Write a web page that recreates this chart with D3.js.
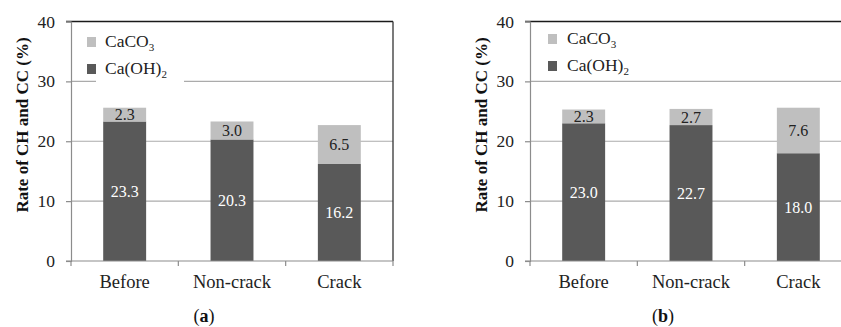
<!DOCTYPE html>
<html>
<head>
<meta charset="utf-8">
<script src="https://cdn.jsdelivr.net/npm/d3@7"></script>
</head>
<body style="margin:0;background:#fff">
<svg id="chart" width="841" height="327" style="display:block"></svg>
<script>
// Sample groups on the x axis
const categories = ["Before", "Non-crack", "Crack"];

// Panel (a): Ca(OH)2 and CaCO3 contents (%)
const chA = [23.3, 20.3, 16.2];
const ccA = [2.3, 3.0, 6.5];

// Panel (b): Ca(OH)2 and CaCO3 contents (%)
const chB = [23.0, 22.7, 18.0];
const ccB = [2.3, 2.7, 7.6];

const yTicks = [0, 10, 20, 30, 40];
const yLabel = "Rate of CH and CC (%)";

const COL_CH = "#595959";
const COL_CC = "#bfbfbf";
const GRID = "#ababab";
const AXIS = "#8c8c8c";
const FONT = "Liberation Serif";

const svg = d3.select("#chart");

// serif text helper: font set both as attribute and inline style
function serif(sel) {
  return sel.attr("font-family", FONT).style("font-family", `"${FONT}"`);
}

function panel(opts) {
  const { left, right, top, bottom, ch, cc, tag, legend } = opts;
  const g = svg.append("g");

  const x = d3.scaleBand().domain(categories).range([left, right])
    .paddingInner(0.6).paddingOuter(0.3);
  const y = d3.scaleLinear().domain([0, 40]).range([bottom, top]);

  // horizontal gridlines
  g.selectAll("line.grid").data(yTicks.filter(t => t > 0 && t < 40)).join("line")
    .attr("x1", left).attr("x2", right)
    .attr("y1", d => y(d)).attr("y2", d => y(d))
    .attr("stroke", GRID).attr("stroke-width", 1.2);

  // frame: dark top and right edges
  g.append("line").attr("x1", left - 5).attr("x2", right)
    .attr("y1", y(40)).attr("y2", y(40))
    .attr("stroke", "#1a1a1a").attr("stroke-width", 1.3);
  g.append("line").attr("x1", right).attr("x2", right)
    .attr("y1", y(40)).attr("y2", y(0))
    .attr("stroke", "#333").attr("stroke-width", 1.3);

  // legend background breaks the 30% gridline
  if (legend.bg) {
    g.append("rect").attr("x", legend.bg[0]).attr("y", top + 4)
      .attr("width", legend.bg[1] - legend.bg[0]).attr("height", y(30) - top - 3)
      .attr("fill", "#fff");
  }

  // stacked bars
  const stack = categories.map((c, i) => ({ c, ch: ch[i], cc: cc[i] }));
  g.selectAll("rect.ch").data(stack).join("rect")
    .attr("x", d => x(d.c)).attr("width", x.bandwidth())
    .attr("y", d => y(d.ch)).attr("height", d => y(0) - y(d.ch))
    .attr("fill", COL_CH);
  g.selectAll("rect.cc").data(stack).join("rect")
    .attr("x", d => x(d.c)).attr("width", x.bandwidth())
    .attr("y", d => y(d.ch + d.cc)).attr("height", d => y(d.ch) - y(d.ch + d.cc))
    .attr("fill", COL_CC);

  // segment value labels
  serif(g.selectAll("text.vch").data(stack).join("text"))
    .attr("x", d => x(d.c) + x.bandwidth() / 2)
    .attr("y", d => y(d.ch / 2))
    .attr("dy", "0.35em").attr("text-anchor", "middle")
    .attr("font-size", 16).attr("fill", "#fff")
    .text(d => d.ch.toFixed(1));
  serif(g.selectAll("text.vcc").data(stack).join("text"))
    .attr("x", d => x(d.c) + x.bandwidth() / 2)
    .attr("y", d => y(d.ch + d.cc / 2))
    .attr("dy", "0.35em").attr("text-anchor", "middle")
    .attr("font-size", 16).attr("fill", "#222")
    .text(d => d.cc.toFixed(1));

  // y axis
  const yAxis = g.append("g").attr("transform", `translate(${left},0)`)
    .call(d3.axisLeft(y).tickValues(yTicks).tickSize(5).tickPadding(11).tickFormat(d3.format("d")));
  serif(yAxis);
  yAxis.select(".domain").attr("stroke", AXIS).attr("stroke-width", 1.2);
  yAxis.selectAll(".tick line").attr("stroke", AXIS).attr("stroke-width", 1.2);
  serif(yAxis.selectAll(".tick text")).attr("font-size", 17.5).attr("fill", "#222");

  // x axis with ticks at category boundaries
  const bounds = [left, ...categories.map((c, i) => left + (i + 1) * (right - left) / 3)];
  g.append("line").attr("x1", left - 5).attr("x2", right)
    .attr("y1", bottom).attr("y2", bottom)
    .attr("stroke", AXIS).attr("stroke-width", 1.2);
  g.selectAll("line.xt").data(bounds).join("line")
    .attr("x1", d => d).attr("x2", d => d)
    .attr("y1", bottom).attr("y2", bottom + 5)
    .attr("stroke", AXIS).attr("stroke-width", 1.2);
  serif(g.selectAll("text.cat").data(categories).join("text"))
    .attr("x", d => x(d) + x.bandwidth() / 2).attr("y", 288)
    .attr("text-anchor", "middle")
    .attr("font-size", 18.5).attr("fill", "#222")
    .text(d => d);

  // y axis title
  serif(g.append("text"))
    .attr("transform", `translate(${left - 43},125) rotate(-90)`)
    .attr("text-anchor", "middle")
    .attr("font-size", 17).attr("font-weight", "bold")
    .attr("fill", "#111").text(yLabel);

  // legend
  const items = [
    { base: "CaCO", sub: "3", color: COL_CC, y: legend.y[0] },
    { base: "Ca(OH)", sub: "2", color: COL_CH, y: legend.y[1] }
  ];
  items.forEach(it => {
    g.append("rect").attr("x", legend.sx).attr("y", it.y - 10)
      .attr("width", 9).attr("height", 10).attr("fill", it.color);
    const t = serif(g.append("text")).attr("x", legend.tx).attr("y", it.y)
      .attr("font-size", 17.5).attr("fill", "#222");
    t.append("tspan").text(it.base);
    t.append("tspan").attr("font-size", 11).attr("dy", 4).text(it.sub);
  });

  // panel tag
  const lab = serif(g.append("text")).attr("x", opts.tagX).attr("y", 322)
    .attr("text-anchor", "middle")
    .attr("font-size", 18).attr("fill", "#111");
  lab.append("tspan").text("(");
  lab.append("tspan").attr("font-weight", "bold").text(tag);
  lab.append("tspan").text(")");
}

panel({ left: 71, right: 393, top: 21.5, bottom: 261, ch: chA, cc: ccA, tag: "a", tagX: 204,
  legend: { sx: 87, tx: 105, y: [47, 74], bg: [96, 184] } });
panel({ left: 530, right: 852, top: 21.5, bottom: 261, ch: chB, cc: ccB, tag: "b", tagX: 663,
  legend: { sx: 548, tx: 567, y: [44, 71], bg: null } });
</script>
</body>
</html>
